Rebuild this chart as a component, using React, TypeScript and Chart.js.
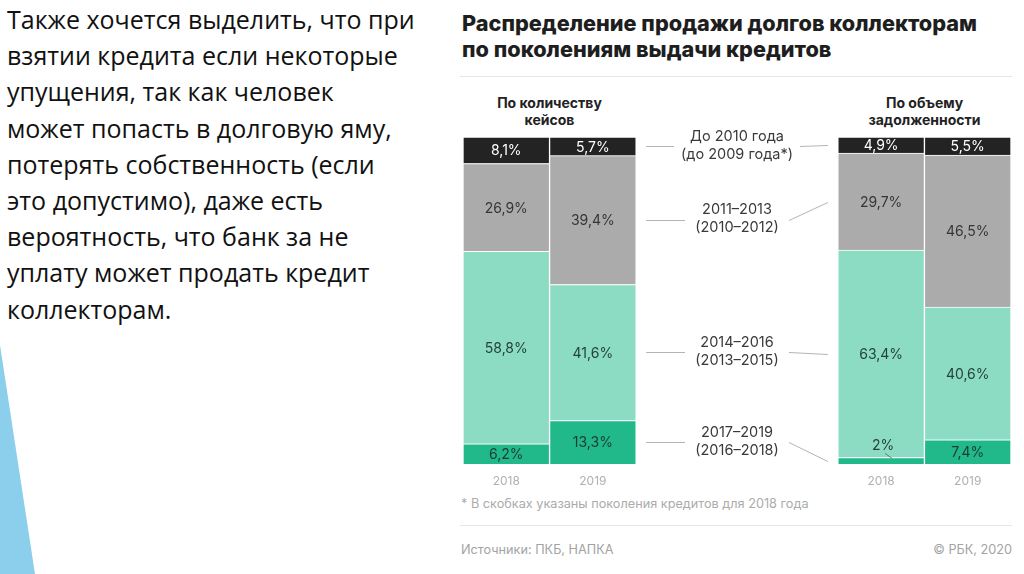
import React, { useEffect, useRef } from 'react';
import { Chart, registerables } from 'chart.js';

Chart.register(...registerables);

// ---- text content ----
const slideLines = [
  'Также хочется выделить, что при',
  'взятии кредита если некоторые',
  'упущения, так как человек',
  'может попасть в долговую яму,',
  'потерять собственность (если',
  'это допустимо), даже есть',
  'вероятность, что банк за не',
  'уплату может продать кредит',
  'коллекторам.',
];
const titleLines = ['Распределение продажи долгов коллекторам', 'по поколениям выдачи кредитов'];
const groupTitles = [
  ['По количеству', 'кейсов'],
  ['По объему', 'задолженности'],
];
const years = ['2018', '2019'];
const generations = ['До 2010 года', '2011–2013', '2014–2016', '2017–2019'];
const generations2018 = ['(до 2009 года*)', '(2010–2012)', '(2013–2015)', '(2016–2018)'];
const footnote = '* В скобках указаны поколения кредитов для 2018 года';
const sourceText = 'Источники: ПКБ, НАПКА';
const copyrightText = '© РБК, 2020';

// ---- data (order: до 2010, 2011–2013, 2014–2016, 2017–2019) ----
const casesShare2018 = [8.1, 26.9, 58.8, 6.2];
const casesShare2019 = [5.7, 39.4, 41.6, 13.3];
const debtShare2018 = [4.9, 29.7, 63.4, 2];
const debtShare2019 = [5.5, 46.5, 40.6, 7.4];

// ---- styles / layout ----
const GROUP_OFFSET = 4.33;
const barPositions = [0, 1, GROUP_OFFSET, GROUP_OFFSET + 1];
const segColors = ['#232323', '#ababab', '#8cdcc3', '#21b98a'];
const segLabelColors = ['#ffffff', '#363636', '#24423a', '#1d3b31'];
const FONT = 'Inter, Roboto, "DejaVu Sans", sans-serif';

const fmt = (v: number) => String(v).replace('.', ',') + '%';

const labelPlugin = {
  id: 'rbcLabels',
  afterDatasetsDraw(chart: any) {
    const ctx = chart.ctx;
    const area = chart.chartArea;
    ctx.save();
    ctx.textAlign = 'center';
    ctx.textBaseline = 'middle';
    ctx.font = `14px ${FONT}`;
    chart.data.datasets.forEach((ds: any, di: number) => {
      const meta = chart.getDatasetMeta(di);
      const gen = ds.generation;
      meta.data.forEach((el: any, i: number) => {
        const p = el.getProps(['x', 'y', 'base'], true);
        const v = ds.data[i].y;
        const h = p.base - p.y;
        if (h < 16) {
          ctx.fillStyle = segLabelColors[2];
          ctx.fillText(fmt(v), p.x + 2, p.y - 12);
          ctx.strokeStyle = '#5c7d71';
          ctx.lineWidth = 1;
          ctx.beginPath();
          ctx.moveTo(p.x + 4, p.y - 4);
          ctx.lineTo(p.x + 11, p.y + 1);
          ctx.stroke();
        } else {
          ctx.fillStyle = segLabelColors[gen];
          ctx.fillText(fmt(v), p.x, (p.y + p.base) / 2 + 1);
        }
      });
    });

    // middle legend with connector lines
    const elsByGen: any[] = [];
    chart.data.datasets.forEach((ds: any, di: number) => {
      elsByGen[ds.generation] = chart.getDatasetMeta(di).data;
    });
    ctx.font = `14.5px ${FONT}`;
    generations.forEach((g, gi) => {
      const els = elsByGen[gi];
      if (!els) return;
      const l = els[1].getProps(['x', 'y', 'base', 'width'], true);
      const r = els[2].getProps(['x', 'y', 'base', 'width'], true);
      const leftEdge = l.x + l.width / 2;
      const rightEdge = r.x - r.width / 2;
      const cx = (leftEdge + rightEdge) / 2;
      const ly = (l.y + l.base) / 2;
      const ry = (r.y + r.base) / 2;
      const w = Math.max(ctx.measureText(g).width, ctx.measureText(generations2018[gi]).width);
      const half = Math.max(w / 2 + 7, 52);
      ctx.strokeStyle = '#b4b4b4';
      ctx.lineWidth = 1;
      ctx.beginPath();
      ctx.moveTo(leftEdge + 10, Math.round(ly) + 0.5);
      ctx.lineTo(cx - half, Math.round(ly) + 0.5);
      ctx.moveTo(cx + half, Math.round(ly) + 0.5);
      ctx.lineTo(rightEdge - 10, Math.round(ry) + 0.5);
      ctx.stroke();
      const ty = Math.max(ly - 1, area.top + 5);
      ctx.fillStyle = '#3a3a3a';
      ctx.fillText(g, cx, ty - 9);
      ctx.fillText(generations2018[gi], cx, ty + 9);
    });
    ctx.restore();
  },
};

function BarChart() {
  const ref = useRef<HTMLCanvasElement | null>(null);
  useEffect(() => {
    if (!ref.current) return;
    const shares = [casesShare2018, casesShare2019, debtShare2018, debtShare2019];
    const datasets = [3, 2, 1, 0].map((gi) => ({
      label: generations[gi],
      generation: gi,
      stack: 'all',
      data: barPositions.map((x, bi) => ({ x, y: shares[bi][gi] })),
      backgroundColor: segColors[gi],
      borderColor: '#ffffff',
      borderWidth: { top: 1, left: 1, right: 1, bottom: 0 },
      borderSkipped: false,
      categoryPercentage: 1,
      barPercentage: 1,
    }));
    const chart = new Chart(ref.current, {
      type: 'bar',
      data: { datasets: datasets as any },
      options: {
        animation: false,
        responsive: true,
        maintainAspectRatio: false,
        layout: { padding: { left: 8, right: 13, top: 12, bottom: 0 } },
        plugins: {
          legend: { display: false },
          tooltip: { enabled: false },
        },
        scales: {
          x: {
            type: 'linear',
            min: -0.5,
            max: GROUP_OFFSET + 1.5,
            offset: false,
            grid: { display: false, drawTicks: false },
            border: { display: false },
            afterBuildTicks: (s: any) => {
              s.ticks = barPositions.map((v) => ({ value: v }));
            },
            afterFit: (s: any) => {
              s.height = 31;
            },
            ticks: {
              padding: 10,
              color: '#b0b0b0',
              autoSkip: false,
              maxRotation: 0,
              font: { family: FONT, size: 12 },
              callback: (_v: any, i: number) => years[i % 2],
            },
          },
          y: { stacked: true, min: 0, max: 100, display: false },
        },
      } as any,
      plugins: [labelPlugin],
    });
    return () => chart.destroy();
  }, []);
  return (
    <div style={{ position: 'absolute', left: 455, top: 125, width: 569, height: 370 }}>
      <canvas ref={ref} />
    </div>
  );
}

export default function App() {
  return (
    <div
      style={{
        position: 'fixed',
        left: 0,
        top: 0,
        width: 1024,
        height: 574,
        background: '#ffffff',
        overflow: 'hidden',
      }}
    >
      {/* decorative triangle */}
      <div
        style={{
          position: 'absolute',
          left: 0,
          top: 0,
          width: 1024,
          height: 574,
          background: '#8ccfec',
          clipPath: 'polygon(0px 345px, 35px 574px, 0px 574px)',
        }}
      />
      {/* slide text */}
      <div
        style={{
          position: 'absolute',
          left: 7,
          top: 1,
          fontFamily: '"Open Sans", sans-serif',
          fontSize: 25,
          lineHeight: '36.2px',
          color: '#111111',
          whiteSpace: 'pre',
        }}
      >
        {slideLines.map((l, i) => (
          <div key={i}>{l}</div>
        ))}
      </div>
      {/* chart title */}
      <div
        style={{
          position: 'absolute',
          left: 462,
          top: 10,
          fontFamily: FONT,
          fontWeight: 800,
          fontSize: 21.7,
          lineHeight: '26px',
          color: '#1e1e1e',
          whiteSpace: 'pre',
        }}
      >
        {titleLines.map((l, i) => (
          <div key={i}>{l}</div>
        ))}
      </div>
      <div style={{ position: 'absolute', left: 460, top: 76, width: 552, height: 1, background: '#e6e6e6' }} />
      {groupTitles.map((t, i) => (
        <div
          key={i}
          style={{
            position: 'absolute',
            left: i === 0 ? 463 : 838,
            top: 94,
            width: 173,
            textAlign: 'center',
            fontFamily: FONT,
            fontWeight: 700,
            fontSize: 14,
            lineHeight: '17px',
            color: '#222222',
          }}
        >
          {t.map((l, j) => (
            <div key={j}>{l}</div>
          ))}
        </div>
      ))}
      <BarChart />
      <div
        style={{
          position: 'absolute',
          left: 461,
          top: 495,
          fontFamily: FONT,
          fontSize: 12.7,
          lineHeight: '18px',
          color: '#ababab',
          whiteSpace: 'pre',
        }}
      >
        {footnote}
      </div>
      <div style={{ position: 'absolute', left: 460, top: 525, width: 552, height: 1, background: '#e6e6e6' }} />
      <div
        style={{
          position: 'absolute',
          left: 461,
          top: 541,
          fontFamily: FONT,
          fontSize: 12.7,
          lineHeight: '18px',
          color: '#a3a3a3',
          whiteSpace: 'pre',
        }}
      >
        {sourceText}
      </div>
      <div
        style={{
          position: 'absolute',
          right: 12,
          top: 541,
          fontFamily: FONT,
          fontSize: 12.7,
          lineHeight: '18px',
          color: '#a3a3a3',
          whiteSpace: 'pre',
        }}
      >
        {copyrightText}
      </div>
    </div>
  );
}
